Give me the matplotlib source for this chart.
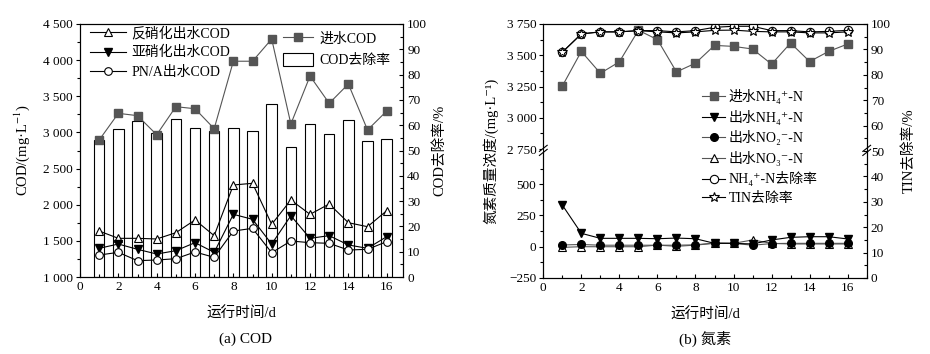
import numpy as np
import matplotlib
matplotlib.use("Agg")
import matplotlib.pyplot as plt
from matplotlib.ticker import MultipleLocator, FuncFormatter, FixedLocator
from matplotlib.patches import Patch

plt.rcParams['font.family'] = ['Liberation Serif', 'Noto Sans CJK SC', 'DejaVu Serif']
plt.rcParams['mathtext.fontset'] = 'stix'
plt.rcParams['font.size'] = 9.5

# ---------------- data ----------------
days = list(range(1, 17))
cod_in = [2895, 3264, 3232, 2968, 3356, 3328, 3052, 3985, 3985, 4292, 3117, 3780, 3403, 3670, 3034, 3296]
cod_denit = [1636, 1535, 1535, 1526, 1613, 1789, 1572, 2273, 2296, 1729, 2065, 1867, 2010, 1751, 1696, 1917]
cod_nitrit = [1397, 1456, 1383, 1318, 1364, 1475, 1341, 1867, 1798, 1456, 1848, 1535, 1572, 1443, 1397, 1558]
cod_pna = [1304, 1341, 1226, 1235, 1253, 1346, 1272, 1636, 1673, 1336, 1498, 1475, 1466, 1373, 1383, 1489]
cod_rem = [54.2, 58.5, 61.7, 57.0, 62.5, 59.0, 57.7, 58.9, 57.7, 68.5, 51.5, 60.6, 56.5, 62.0, 53.8, 54.4]

nh4_in = [3254, 3531, 3356, 3448, 3700, 3625, 3367, 3437, 3579, 3571, 3550, 3429, 3598, 3450, 3531, 3590]
nh4_out = [333, 107, 67, 67, 67, 64, 69, 64, 27, 27, 22, 54, 75, 80, 80, 62]
no2_out = [14, 18, 12, 12, 12, 12, 12, 15, 30, 27, 12, 25, 27, 27, 27, 27]
no3_out = [-5, 0, 0, 0, 0, 13, 3, 13, 27, 27, 54, 27, 22, 22, 22, 22]
nh4_rem = [88.9, 96.1, 96.9, 96.9, 97.4, 97.4, 96.9, 97.4, 98.7, 99.1, 99.1, 97.4, 97.4, 96.9, 97.1, 97.5]
tin_rem = [88.9, 96.1, 96.9, 96.9, 97.4, 96.9, 96.5, 96.9, 97.5, 97.6, 97.1, 96.9, 96.9, 96.5, 96.5, 96.9]

GRAY = '#555555'
MS = 5.5
LW = 0.8
LABEL_FS = 10.5


def thousands(v, p):
    s = f"{int(round(v)):,}".replace(",", " ")
    return s.replace("-", "\u2212")


fig = plt.figure(figsize=(9.3, 3.54), dpi=100)

# ================= (a) COD =================
ax1 = fig.add_axes([80 / 930, 77 / 354, 323 / 930, 253 / 354])
ax1r = ax1.twinx()
ax1.set_zorder(ax1r.get_zorder() + 1)
ax1.patch.set_visible(False)

ax1r.bar(days, cod_rem, width=0.55, facecolor='white', edgecolor='black', linewidth=0.8)
ax1r.set_ylim(0, 100)

l_in, = ax1.plot(days, cod_in, color=GRAY, lw=LW, marker='s', ms=MS, mfc=GRAY, mec=GRAY)
l_de, = ax1.plot(days, cod_denit, color='black', lw=LW, marker='^', ms=MS + 0.5, mfc='white', mec='black', mew=0.8)
l_ni, = ax1.plot(days, cod_nitrit, color='black', lw=LW, marker='v', ms=MS + 0.5, mfc='black', mec='black')
l_pn, = ax1.plot(days, cod_pna, color='black', lw=LW, marker='o', ms=MS, mfc='white', mec='black', mew=0.8)

ax1.set_xlim(0, 16.85)
ax1.set_ylim(1000, 4500)
ax1.xaxis.set_major_locator(MultipleLocator(2))
ax1.xaxis.set_minor_locator(MultipleLocator(1))
ax1.yaxis.set_major_locator(MultipleLocator(500))
ax1.yaxis.set_minor_locator(MultipleLocator(250))
ax1.yaxis.set_major_formatter(FuncFormatter(thousands))
ax1.tick_params(axis='y', which='both', direction='out', length=3, width=0.8, pad=2)
ax1.tick_params(axis='y', which='minor', length=2)
ax1.tick_params(axis='x', which='both', direction='in', length=3, width=0.8, pad=3)
ax1.tick_params(axis='x', which='minor', length=2)
ax1r.yaxis.set_major_locator(MultipleLocator(10))
ax1r.yaxis.set_minor_locator(MultipleLocator(5))
ax1r.tick_params(axis='y', which='both', direction='in', length=3, width=0.8, pad=3)
ax1r.tick_params(axis='y', which='minor', length=2)

ax1.set_xlabel("运行时间/d", labelpad=10, fontsize=LABEL_FS)
ax1.set_ylabel("COD/(mg·L$^{-1}$)", labelpad=8, fontsize=LABEL_FS)
ax1r.set_ylabel("COD去除率/%", labelpad=4, fontsize=LABEL_FS)

leg1 = ax1.legend([l_de, l_ni, l_pn], ["反硝化出水COD", "亚硝化出水COD", "PN/A出水COD"],
                  loc='upper left', bbox_to_anchor=(0.0, 1.03), frameon=False, fontsize=10,
                  handlelength=2.6, handletextpad=0.4, labelspacing=0.45, borderaxespad=0.3)
ax1.add_artist(leg1)
bar_patch = Patch(facecolor='white', edgecolor='black', linewidth=0.8)
ax1.legend([l_in, bar_patch], ["进水COD", "COD去除率"],
           loc='upper left', bbox_to_anchor=(0.598, 1.008), frameon=False, fontsize=10,
           handlelength=2.2, handleheight=1.0, handletextpad=0.4, labelspacing=0.55,
           borderaxespad=0.3)

# ================= (b) Nitrogen =================
LOW_TOP = 770.0
HIGH_BOT = 2740.0
GAP = HIGH_BOT - LOW_TOP


def fwd(y):
    y = np.asarray(y, dtype=float)
    return np.where(y <= LOW_TOP, y, np.where(y >= HIGH_BOT, y - GAP, LOW_TOP))


def inv(u):
    u = np.asarray(u, dtype=float)
    return np.where(u <= LOW_TOP, u, u + GAP)


ax2 = fig.add_axes([543.3 / 930, 76 / 354, 323.4 / 930, 254 / 354])
ax2r = ax2.twinx()

ax2.set_yscale('function', functions=(fwd, inv))
ax2.set_ylim(-250, 3750)
ax2.set_xlim(0, 17)

m_in, = ax2.plot(days, nh4_in, color=GRAY, lw=LW, marker='s', ms=MS, mfc=GRAY, mec=GRAY)
m_no3, = ax2.plot(days, no3_out, color=GRAY, lw=LW, marker='^', ms=MS + 0.5, mfc='white', mec='black', mew=0.8, zorder=3)
m_no2, = ax2.plot(days, no2_out, color=GRAY, lw=LW, marker='o', ms=MS, mfc='black', mec='black', zorder=3.1)
m_nh4, = ax2.plot(days, nh4_out, color='black', lw=LW, marker='v', ms=MS + 0.5, mfc='black', mec='black', zorder=3.2)

r_nh4, = ax2r.plot(days, nh4_rem, color='black', lw=LW, marker='o', ms=MS + 0.5, mfc='white', mec='black', mew=0.8)
r_tin, = ax2r.plot(days, tin_rem, color='black', lw=LW, marker='*', ms=MS + 1.5, mfc='white', mec='black', mew=0.8)
ax2r.set_ylim(0, 100)

ax2.yaxis.set_major_locator(FixedLocator([-250, 0, 250, 500, 2750, 3000, 3250, 3500, 3750]))
ax2.yaxis.set_minor_locator(FixedLocator([-125, 125, 375, 625, 2875, 3125, 3375, 3625]))
ax2.yaxis.set_major_formatter(FuncFormatter(thousands))
ax2.xaxis.set_major_locator(MultipleLocator(2))
ax2.xaxis.set_minor_locator(MultipleLocator(1))
ax2.tick_params(axis='y', which='both', direction='out', length=3, width=0.8, pad=2)
ax2.tick_params(axis='y', which='minor', length=2)
ax2.tick_params(axis='x', which='both', direction='in', length=3, width=0.8, pad=3)
ax2.tick_params(axis='x', which='minor', length=2)
ax2r.yaxis.set_major_locator(MultipleLocator(10))
ax2r.yaxis.set_minor_locator(MultipleLocator(5))
ax2r.tick_params(axis='y', which='both', direction='in', length=3, width=0.8, pad=3)
ax2r.tick_params(axis='y', which='minor', length=2)

ax2.set_xlabel("运行时间/d", labelpad=10, fontsize=LABEL_FS)
ax2.set_ylabel("氮素质量浓度/(mg·L\u207b\u00b9)", labelpad=6, fontsize=LABEL_FS)
ax2r.set_ylabel("TIN去除率/%", labelpad=8, fontsize=LABEL_FS)

ax2.legend([m_in, m_nh4, m_no2, m_no3, r_nh4, r_tin],
           ["进水NH\u2084\u207a-N", "出水NH\u2084\u207a-N", "出水NO\u2082\u207b-N", "出水NO\u2083\u207b-N",
            "NH\u2084\u207a-N去除率", "TIN去除率"],
           loc='upper left', bbox_to_anchor=(0.475, 0.765), frameon=False, fontsize=10,
           handlelength=1.6, handletextpad=0.3, labelspacing=0.4, borderaxespad=0.0)

# break marks on both spines
yb = (ax2.transScale + ax2.transLimits).transform((0, LOW_TOP))[1]
for xs in (0.0, 1.0):
    ax2.add_patch(plt.Rectangle((xs - 0.004, yb - 0.006), 0.008, 0.012, transform=ax2.transAxes,
                                facecolor='white', edgecolor='none', clip_on=False, zorder=9))
    for dy in (-0.008, 0.008):
        ax2.plot([xs - 0.012, xs + 0.012], [yb + dy - 0.012, yb + dy + 0.012],
                 transform=ax2.transAxes, color='black', lw=0.8, clip_on=False, zorder=10)

for a in (ax1, ax1r, ax2, ax2r):
    for s in a.spines.values():
        s.set_linewidth(0.8)

fig.text(245 / 930, 1 - 339 / 354, "(a) COD", ha='center', va='center', fontsize=11)
fig.text(705 / 930, 1 - 339 / 354, "(b) 氮素", ha='center', va='center', fontsize=11)

fig.savefig("out.png", dpi=100)
